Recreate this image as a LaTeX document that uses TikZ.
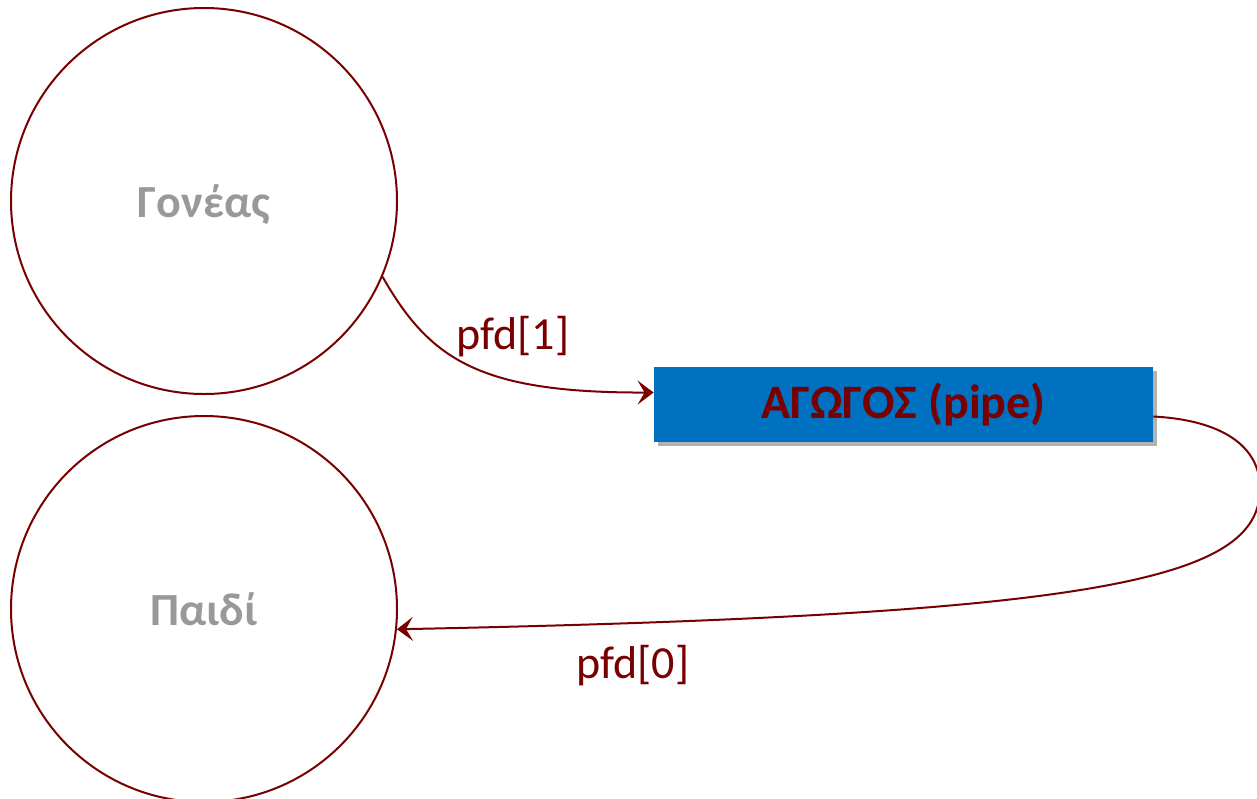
\documentclass[tikz,border=0pt]{standalone}
\usepackage{fontspec}
\setmainfont{Carlito}
\usepackage{tikz}
\usetikzlibrary{positioning}
\usetikzlibrary{arrows.meta}
\usetikzlibrary{shadows}

\definecolor{darkred}{HTML}{780000}
\definecolor{pipeblue}{HTML}{0070C0}
\definecolor{txtgray}{HTML}{999999}

\begin{document}
\begin{tikzpicture}[
        x = 0.5pt, y = -0.5pt,
        proc/.style = {
            draw = darkred,
            circle,
            line width = 1pt,
            minimum size = 193pt,
            inner sep = 0pt,
            text = txtgray,
            text depth = 0pt,
            font = \fontsize{23}{27}\selectfont\bfseries
        },
        pipebox/.style = {
            fill = pipeblue,
            minimum width = 249.5pt,
            minimum height = 37.5pt,
            inner sep = 0pt,
            text = darkred,
            font = \fontsize{24}{28}\selectfont\bfseries,
            drop shadow = {shadow xshift=2pt, shadow yshift=-2pt, fill=black, opacity=0.3}
        },
        flow/.style = {
            draw = darkred,
            line width = 1pt,
            -{Stealth[length=8pt, width=12pt, inset=3.5pt]}
        },
        flowlabel/.style = {
            text = darkred,
            font = \fontsize{23}{27}\selectfont
        }
        ]
%
        \useasboundingbox (0,0) rectangle (1257,798);
%
        \node[proc] (Parent) at (204,201) {Γονέας};
        \node[proc, below=10pt of Parent] (Child) {Παιδί};
%
        \node[pipebox] (Pipe) at (903.5,404.5) {ΑΓΩΓΟΣ (pipe)};
%
        \draw[flow] (Parent.-23) .. controls (430,360) and (480,393) .. ([yshift=6pt]Pipe.west);
        \node[flowlabel] (L1) at (513,337) {pfd[1]};
%
        \draw[flow] ([yshift=-6pt]Pipe.east) .. controls (1220,420) and (1261,445) .. (1260,490)
                        .. controls (1258,580) and (1100,615) .. (Child.-6);
        \node[flowlabel] (L0) at (633,666) {pfd[0]};
%
    \end{tikzpicture}
\end{document}
